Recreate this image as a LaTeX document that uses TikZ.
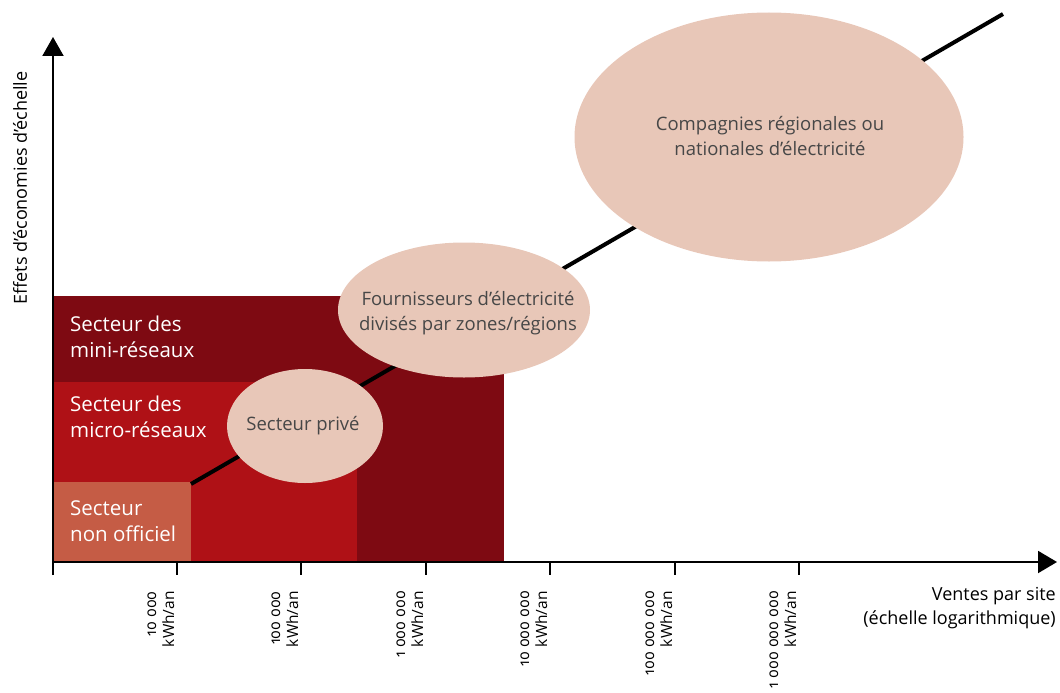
\documentclass[tikz,border=0pt]{standalone}
\usepackage{fontspec}
\setmainfont{Open Sans}[Numbers=OldStyle]
\usetikzlibrary{arrows.meta,shapes.geometric}
\definecolor{maroon}{HTML}{7E0A12}
\definecolor{microred}{HTML}{AF1116}
\definecolor{informal}{HTML}{C55C45}
\definecolor{blush}{HTML}{E8C7B8}
\definecolor{txtgray}{HTML}{474747}
\tikzset{
  blob/.style={ellipse,fill=blush,draw=none,inner sep=0pt},
  blobtext/.style={text=txtgray,align=center,inner sep=0pt,font=\fontsize{18.5}{25}\selectfont},
  sectorlabel/.style={anchor=north west,text=white,align=left,inner sep=0pt,font=\fontsize{20.5}{26}\selectfont},
  ticklabel/.style={rotate=90,anchor=east,align=right,inner sep=0pt,font=\fontsize{15.5}{18}\selectfont,text=black},
  axislabel/.style={inner sep=0pt,text=black,font=\fontsize{18}{24}\selectfont},
  axisline/.style={line width=2pt,draw=black},
  tickmark/.style={line width=1.5pt,draw=black}
}
\begin{document}
\begin{tikzpicture}[x=1pt,y=-1pt]
\useasboundingbox (0,0) rectangle (1060,693);
% sector rectangles
\fill[maroon] (53,296) rectangle (504,562);
\fill[microred] (53,382) rectangle (357,562);
\fill[informal] (53,482) rectangle (191,562);
% diagonal trend line
\coordinate (lstart) at (191,484);
\coordinate (lend) at (1003,14);
\draw[line width=4pt,line cap=butt] (lstart) -- (lend);
% ellipses
\node[blob,minimum width=156pt,minimum height=114pt] (prive) at (305,426) {};
\node[blobtext] (privetxt) at (303,426) {Secteur privé};
\node[blob,minimum width=252pt,minimum height=135pt] (fourn) at (464,310) {};
\node[blobtext] (fourntxt) at (468,313) {Fournisseurs d’électricité\\divisés par zones/régions};
\node[blob,minimum width=389pt,minimum height=249pt] (comp) at (769,137) {};
\node[blobtext] (comptxt) at (770,136) {Compagnies régionales ou\\nationales d’électricité};
% sector labels
\node[sectorlabel] (mini) at (70,316) {Secteur des\\mini-réseaux};
\node[sectorlabel] (micro) at (70,396) {Secteur des\\micro-réseaux};
\node[sectorlabel] (nonoff) at (70,500) {Secteur\\non officiel};
% axes
\coordinate (O) at (53,562);
\coordinate (ytop) at (53,37);
\coordinate (xend) at (1057,562);
\coordinate (ybot) at (53,575);
\draw[axisline,-{Triangle[width=21pt,length=19pt]}] (ybot) -- (ytop);
\draw[axisline,-{Triangle[width=22pt,length=19pt]}] (O) -- (xend);
% ticks and labels
\foreach \x/\lab/\nm in {177/10 000/ta,301/100 000/tb,426/1 000 000/tc,550/10 000 000/td,675/100 000 000/te,799/1 000 000 000/tf}{
  \coordinate (\nm) at (\x,562);
  \draw[tickmark] (\nm) -- ++(0,13);
  \node[ticklabel] (\nm l) at (\x-16,591) {\lab\\kWh/an};
}
\node[axislabel,rotate=90] (ylab) at (20,188) {Effets d’économies d’échelle};
\node[axislabel,anchor=north east,align=right] (xlab) at (1056,587) {Ventes par site\\(échelle logarithmique)};
\end{tikzpicture}
\end{document}
